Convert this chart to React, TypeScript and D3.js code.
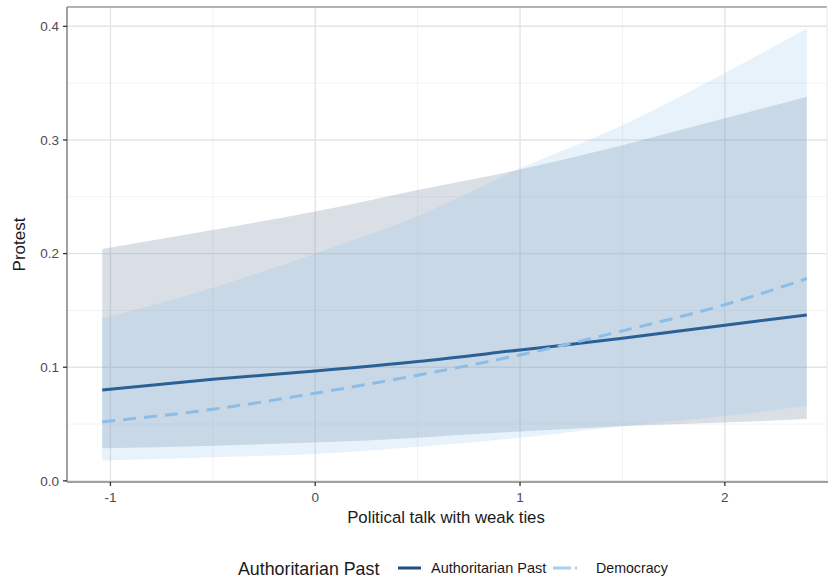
import * as React from 'react';
import * as d3 from 'd3';

// values (predicted probability of protest)
const talk = [-1.04, -0.5, 0, 0.5, 1, 1.5, 2, 2.4];
const authFit = [0.08, 0.0894, 0.0967, 0.105, 0.1152, 0.1254, 0.137, 0.146];
const authLow = [0.0287, 0.031, 0.0337, 0.038, 0.0434, 0.048, 0.0513, 0.0545];
const authHigh = [0.204, 0.2207, 0.237, 0.256, 0.274, 0.2954, 0.319, 0.338];
const demFit = [0.052, 0.063, 0.0771, 0.093, 0.1108, 0.132, 0.155, 0.178];
const demLow = [0.0179, 0.0208, 0.0237, 0.03, 0.038, 0.048, 0.057, 0.066];
const demHigh = [0.143, 0.17, 0.2, 0.233, 0.275, 0.313, 0.359, 0.398];
const xTicks = [-1, 0, 1, 2];
const yTicks = [0, 0.1, 0.2, 0.3, 0.4];
const legendLabels = ['Authoritarian Past', 'Democracy'];

const W = 828,
  H = 582;
const panel = { left: 67, top: 7, right: 842, bottom: 482 };
const FONT = '"Liberation Sans", Arial, sans-serif';

export default function App() {
  const x = d3.scaleLinear().domain([-1.212, 2.572]).range([panel.left, panel.right]);
  const y = d3.scaleLinear().domain([-0.001, 0.417]).range([panel.bottom, panel.top]);

  const rows = (lo: number[], hi: number[], fit: number[]) =>
    talk.map((t, i) => ({ t, lo: lo[i], hi: hi[i], fit: fit[i] }));
  const auth = rows(authLow, authHigh, authFit);
  const dem = rows(demLow, demHigh, demFit);

  const area = d3
    .area<any>()
    .curve(d3.curveMonotoneX)
    .x(d => x(d.t))
    .y0(d => y(d.lo))
    .y1(d => y(d.hi));
  const line = d3
    .line<any>()
    .curve(d3.curveMonotoneX)
    .x(d => x(d.t))
    .y(d => y(d.fit));

  const xMinor = [-1.5, -0.5, 0.5, 1.5, 2.5];
  const yMinor = [0.05, 0.15, 0.25, 0.35];

  return (
    <svg width={W} height={H} style={{ position: 'absolute', left: 0, top: 0 }}>
      <defs>
        <clipPath id="panel">
          <rect x={panel.left} y={panel.top} width={827 - panel.left} height={panel.bottom - panel.top} />
        </clipPath>
      </defs>
      <rect width={W} height={H} fill="white" />
      <g clipPath="url(#panel)">
        {xMinor.map(v => (
          <line key={'xm' + v} x1={x(v)} x2={x(v)} y1={panel.top} y2={panel.bottom} stroke="#f0f0f0" strokeWidth={0.9} />
        ))}
        {yMinor.map(v => (
          <line key={'ym' + v} x1={panel.left} x2={panel.right} y1={y(v)} y2={y(v)} stroke="#f0f0f0" strokeWidth={0.9} />
        ))}
        {xTicks.map(v => (
          <line key={'xg' + v} x1={x(v)} x2={x(v)} y1={panel.top} y2={panel.bottom} stroke="#e4e4e4" strokeWidth={1.4} />
        ))}
        {yTicks.map(v => (
          <line key={'yg' + v} x1={panel.left} x2={panel.right} y1={y(v)} y2={y(v)} stroke="#e4e4e4" strokeWidth={1.4} />
        ))}
        <path d={area(auth) || ''} fill="rgb(120,140,160)" fillOpacity={0.28} />
        <path d={area(dem) || ''} fill="rgb(140,190,235)" fillOpacity={0.2} />
        <path d={line(auth) || ''} fill="none" stroke="#2b6096" strokeWidth={3} />
        <path d={line(dem) || ''} fill="none" stroke="#8bbde7" strokeWidth={3} strokeDasharray="13,8" />
      </g>
      {/* panel border */}
      <line x1={panel.left} x2={827} y1={panel.top} y2={panel.top} stroke="#9a9a9a" strokeWidth={1.5} />
      <line x1={827} x2={827} y1={panel.top} y2={panel.bottom} stroke="#e8e8e8" strokeWidth={1} />
      <line x1={panel.left} x2={panel.left} y1={panel.top} y2={panel.bottom} stroke="#808080" strokeWidth={1.5} />
      <line x1={panel.left} x2={828} y1={panel.bottom} y2={panel.bottom} stroke="#a0a0a0" strokeWidth={2} />

      {/* y axis */}
      {yTicks.map(v => (
        <g key={'yt' + v}>
          <line x1={panel.left - 4} x2={panel.left} y1={y(v)} y2={y(v)} stroke="#333" strokeWidth={1.3} />
          <text x={panel.left - 8} y={y(v)} dy="0.35em" textAnchor="end" fontFamily={FONT} fontSize={13.5} fill="#4d4d4d">
            {d3.format('.1f')(v)}
          </text>
        </g>
      ))}
      {/* x axis */}
      {xTicks.map(v => (
        <g key={'xt' + v}>
          <line x1={x(v)} x2={x(v)} y1={panel.bottom} y2={panel.bottom + 4} stroke="#333" strokeWidth={1.3} />
          <text x={x(v)} y={panel.bottom + 20} textAnchor="middle" fontFamily={FONT} fontSize={13.5} fill="#4d4d4d">
            {v}
          </text>
        </g>
      ))}
      <text x={446} y={523} textAnchor="middle" fontFamily={FONT} fontSize={16.8} fill="#1a1a1a">
        Political talk with weak ties
      </text>
      <text transform={`translate(25,${(panel.top + panel.bottom) / 2}) rotate(-90)`} textAnchor="middle" fontFamily={FONT} fontSize={17} fill="#1a1a1a">
        Protest
      </text>

      {/* legend */}
      <text x={238} y={575} fontFamily={FONT} fontSize={17.8} fill="#1a1a1a">
        Authoritarian Past
      </text>
      <line x1={398} x2={421} y1={568} y2={568} stroke="#1f4f82" strokeWidth={3} />
      <text x={431} y={573} fontFamily={FONT} fontSize={14.5} fill="#1a1a1a">
        {legendLabels[0]}
      </text>
      <line x1={553} x2={583} y1={568} y2={568} stroke="#a6d0f2" strokeWidth={3} strokeDasharray="18,4,2,10" />
      <text x={596} y={573} fontFamily={FONT} fontSize={14.2} fill="#1a1a1a">
        {legendLabels[1]}
      </text>
    </svg>
  );
}
